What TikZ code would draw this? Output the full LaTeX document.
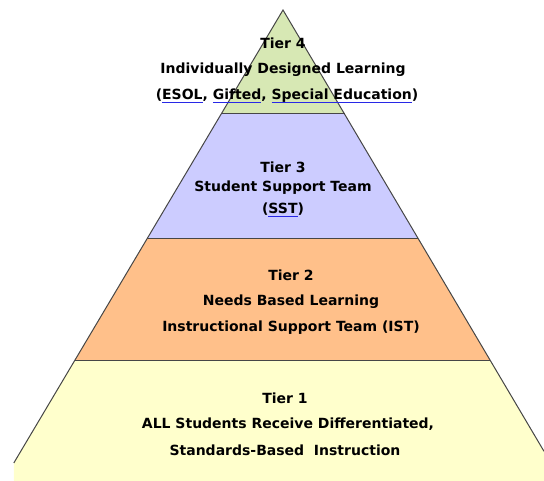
\documentclass[tikz,border=0pt]{standalone}
\usepackage{fontspec}
\setmainfont{DejaVu Sans}
\usepackage{xcolor}
\definecolor{tierfour}{RGB}{215,232,180}
\definecolor{tierthree}{RGB}{204,204,255}
\definecolor{tiertwo}{RGB}{255,192,138}
\definecolor{tierone}{RGB}{255,255,204}
\definecolor{linkblue}{RGB}{40,40,230}
\definecolor{edgegray}{RGB}{70,70,70}
\newlength\lnkw
\newcommand\lnk[1]{\settowidth\lnkw{#1}\rlap{\color{linkblue}\rule[-3.5pt]{\lnkw}{1.2pt}}#1}
\tikzset{
  tierline/.style={font=\fontsize{14}{16}\selectfont\bfseries, inner sep=0pt, anchor=center},
  tieredge/.style={draw=edgegray, line width=1pt}
}
\begin{document}
\begin{tikzpicture}[x=1pt, y=-1pt]
    \useasboundingbox (0,0) rectangle (544,481);
    % tiers, top to bottom
    \fill[tierfour] (283,10) -- (344.5,114) -- (221.2,114) -- cycle;
    \fill[tierthree] (221.2,114) -- (344.5,114) -- (418.4,239) -- (147,239) -- cycle;
    \fill[tiertwo] (147,239) -- (418.4,239) -- (490,360) -- (75,360) -- cycle;
    \fill[tierone] (75,360) -- (490,360) -- (544,451.3) -- (544,481) -- (14,481) -- (13.8,463) -- cycle;
    \draw[tieredge] (13.8,463) -- (283,10) -- (544,451.3);
    \draw[tieredge] (221.2,114) -- (344.5,114);
    \draw[tieredge] (147,239) -- (418.4,239);
    \draw[tieredge] (75,360) -- (490,360);
    % labels
    \node[tierline] (t4a) at (283,43) {Tier 4};
    \node[tierline] (t4b) at (283,70) {Individually Designed Learning};
    \node[tierline] (t4c) at (287,96) {(\lnk{ESOL}, \lnk{Gifted}, \lnk{Special Education})};
    \node[tierline] (t3a) at (283,167) {Tier 3};
    \node[tierline] (t3b) at (283,188) {Student Support Team};
    \node[tierline] (t3c) at (283,210) {(\lnk{SST})};
    \node[tierline] (t2a) at (291,275) {Tier 2};
    \node[tierline] (t2b) at (291,302) {Needs Based Learning};
    \node[tierline] (t2c) at (291,328) {Instructional Support Team (IST)};
    \node[tierline] (t1a) at (285,398) {Tier 1};
    \node[tierline] (t1b) at (288,424) {ALL Students Receive Differentiated,};
    \node[tierline] (t1c) at (285,450) {Standards-Based\ \ Instruction};
\end{tikzpicture}
\end{document}
